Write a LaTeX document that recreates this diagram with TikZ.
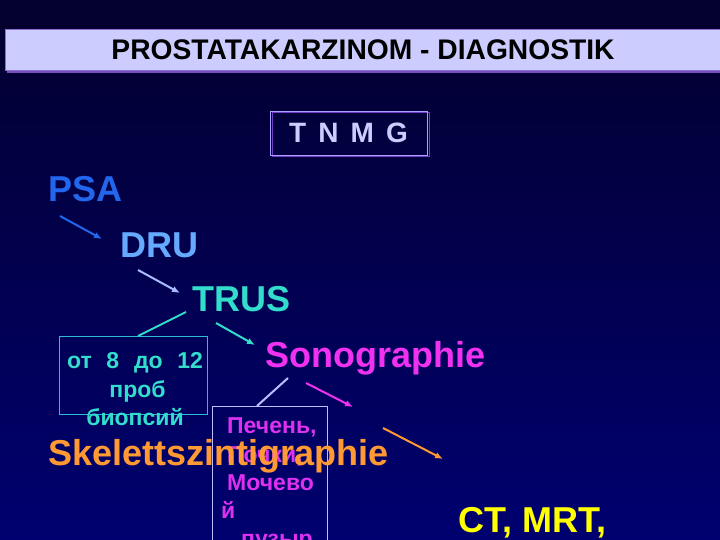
\documentclass[tikz,border=0pt]{standalone}
\usepackage{fontspec}
\setmainfont{Liberation Sans}
\usetikzlibrary{arrows.meta}
\definecolor{bgtop}{RGB}{3,0,45}
\definecolor{bgbot}{RGB}{0,0,112}
\definecolor{titlefill}{RGB}{204,204,255}
\definecolor{titleline}{RGB}{140,110,210}
\definecolor{titleshadow}{RGB}{120,80,190}
\definecolor{tnmgtext}{RGB}{204,204,255}
\definecolor{tnmgline}{RGB}{170,160,255}
\definecolor{tnmgshadow}{RGB}{110,60,200}
\definecolor{psac}{RGB}{34,102,238}
\definecolor{druc}{RGB}{102,170,255}
\definecolor{druarr}{RGB}{170,187,255}
\definecolor{trusc}{RGB}{51,221,204}
\definecolor{sonoc}{RGB}{240,50,240}
\definecolor{pechc}{RGB}{220,50,240}
\definecolor{pechline}{RGB}{190,190,255}
\definecolor{skelc}{RGB}{255,153,51}
\definecolor{ctc}{RGB}{255,255,0}
\begin{document}
\begin{tikzpicture}[x=1pt,y=-1pt,
  big/.style={inner sep=0pt, anchor=base west, font=\fontsize{36}{40}\selectfont\bfseries},
  small/.style={inner sep=0pt, font=\fontsize{23}{26}\selectfont\bfseries},
  conn/.style={line width=2pt},
  arr/.style={conn,-{Latex[length=8pt,width=6.5pt]}},
  boxline/.style={inner sep=0pt, anchor=north west, line width=0.8pt}]
\useasboundingbox (0,0) rectangle (720,540);
\shade[top color=bgtop, bottom color=bgbot] (0,0) rectangle (720,540);

% title bar
\fill[titleshadow] (7,32) rectangle (727,73);
\node[boxline, draw=titleline, fill=titlefill, minimum width=720pt, minimum height=41pt] (titlebar) at (5,29) {};
\node[inner sep=0pt, anchor=base, font=\fontsize{27}{30}\selectfont\bfseries, text=black] (title) at (363,60) {\scalebox{1.045}[1.05]{PROSTATAKARZINOM - DIAGNOSTIK}};

% TNMG
\draw[tnmgshadow, line width=1pt] (272,113) rectangle (429,157);
\node[boxline, draw=tnmgline, line width=1pt, minimum width=157pt, minimum height=44pt] (tnmgbox) at (270,111) {};
\node[inner sep=0pt, anchor=base, font=\fontsize{28}{30}\selectfont\bfseries, text=tnmgtext] (tnmg) at (348.5,143) {\makebox[119pt]{T\hfill N\hfill M\hfill G}};

% main labels
\node[big, text=psac] (psa) at (48,202) {PSA};
\node[big, text=druc] (dru) at (120,257) {DRU};
\node[big, text=trusc] (trus) at (192,311) {TRUS};
\node[big, text=sonoc] (sono) at (265,367) {Sonographie};

% biopsy box
\node[boxline, draw=trusc!85!blue, minimum width=148pt, minimum height=78pt] (biobox) at (59,336) {};
\node[small, anchor=base, text=trusc] (bio1) at (135,368) {\makebox[136pt]{от\hfill 8\hfill до\hfill 12}};
\node[small, anchor=base, text=trusc] (bio2) at (137.5,397) {проб};
\node[small, anchor=base, text=trusc] (bio3) at (135,425) {биопсий};

% organ box
\node[boxline, draw=pechline, minimum width=115pt, minimum height=140pt] (pechbox) at (212,406) {};
\node[small, anchor=base west, text=pechc] (pech1) at (227,433) {Печень,};
\node[small, anchor=base west, text=pechc] (pech2) at (227,462) {Почки,};
\node[small, anchor=base west, text=pechc] (pech3) at (227,490) {Мочево};
\node[small, anchor=base west, text=pechc] (pech4) at (221,518) {й};
\node[small, anchor=base west, text=pechc] (pech5) at (241,546) {пузыр};

\node[big, text=skelc] (skel) at (48,465) {Skelettszintigraphie};
\node[big, text=ctc] (ct) at (458,532) {CT, MRT,};

% connector end points
\coordinate (a1s) at (60,216);   \coordinate (a1e) at (102,239);
\coordinate (a2s) at (138,270);  \coordinate (a2e) at (180,293);
\coordinate (l1s) at (186,312);  \coordinate (l1e) at (138,336);
\coordinate (a3s) at (216,323);  \coordinate (a3e) at (255,345);
\coordinate (l2s) at (288,378);  \coordinate (l2e) at (257,406);
\coordinate (a4s) at (306,383);  \coordinate (a4e) at (353,407);
\coordinate (a5s) at (383,428);  \coordinate (a5e) at (443,459);

\draw[arr, psac] (a1s) -- (a1e);
\draw[arr, druarr] (a2s) -- (a2e);
\draw[conn, trusc] (l1s) -- (l1e);
\draw[arr, trusc] (a3s) -- (a3e);
\draw[conn, pechline] (l2s) -- (l2e);
\draw[arr, sonoc] (a4s) -- (a4e);
\draw[arr, skelc] (a5s) -- (a5e);
\end{tikzpicture}
\end{document}
